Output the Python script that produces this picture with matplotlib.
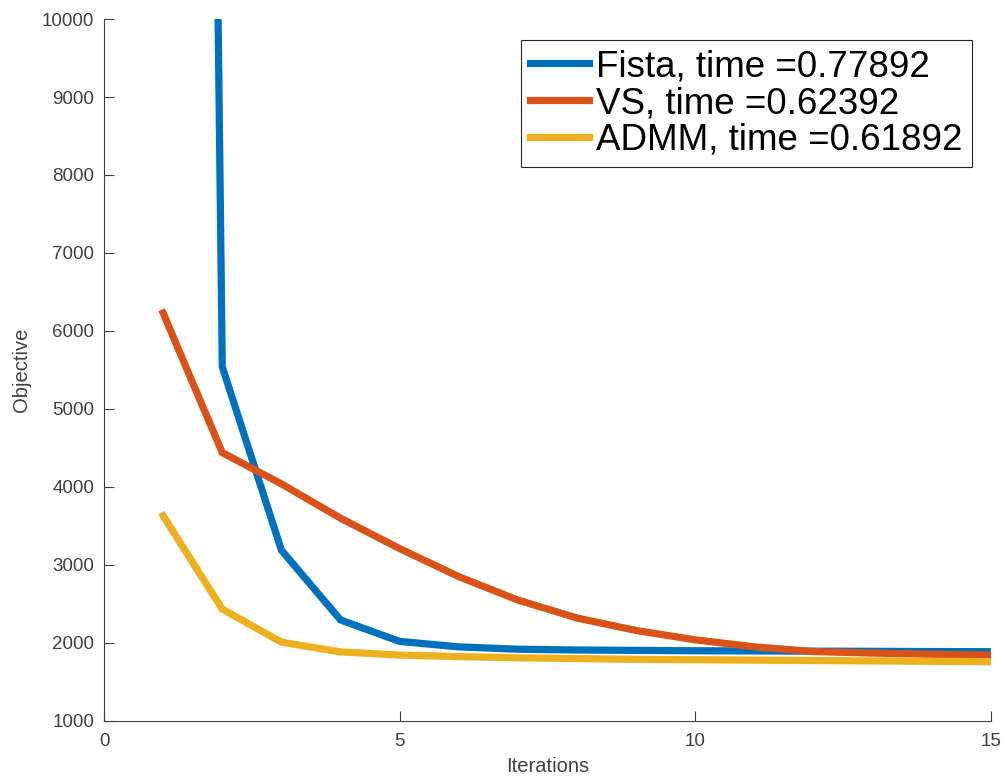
import matplotlib
matplotlib.use("Agg")
import matplotlib.pyplot as plt
import numpy as np

plt.rcParams['font.family'] = ['Liberation Sans', 'DejaVu Sans']

# iteration index and objective values
iterations = np.arange(1, 16)
fista = [69000, 5540, 3190, 2295, 2020, 1950, 1920, 1910, 1905, 1900, 1898, 1895, 1893, 1890, 1888]
vs = [6230, 4440, 4040, 3600, 3210, 2850, 2550, 2320, 2160, 2040, 1950, 1890, 1870, 1855, 1845]
admm = [3630, 2435, 2010, 1885, 1845, 1825, 1810, 1800, 1790, 1785, 1780, 1775, 1770, 1765, 1760]

labels = ['Fista, time =0.77892', 'VS, time =0.62392', 'ADMM, time =0.61892']
colors = ['#0072BD', '#D95319', '#EDB120']
xticks = [0, 5, 10, 15]
yticks = list(range(1000, 10001, 1000))

axis_col = '#404040'

fig = plt.figure(figsize=(10.04, 7.79), dpi=100)
ax = fig.add_axes([0.1036, 0.0745, 0.8834, 0.9011])

for y, lab, c in zip([fista, vs, admm], labels, colors):
    ax.plot(iterations, y, color=c, lw=5.2, label=lab, solid_joinstyle='miter')

ax.set_xlim(0, 15)
ax.set_ylim(1000, 10000)
ax.set_xticks(xticks)
ax.set_yticks(yticks)
ax.spines['top'].set_visible(False)
ax.spines['right'].set_visible(False)
for s in ['left', 'bottom']:
    ax.spines[s].set_color(axis_col)
    ax.spines[s].set_linewidth(0.8)
ax.tick_params(direction='in', length=7, width=0.8, colors=axis_col, labelsize=13.5)
ax.tick_params(axis='y', pad=7)
ax.tick_params(axis='x', pad=9)

ax.set_xlabel('Iterations', fontsize=14.5, color=axis_col, labelpad=5)
ax.set_ylabel('Objective', fontsize=14.5, color=axis_col, labelpad=8)

# MATLAB-style legend box in the top right corner
leg = ax.legend(loc='upper right', bbox_to_anchor=(0.9786, 0.970), fontsize=26.5,
                frameon=True, fancybox=False, handlelength=1.6, handletextpad=0.2,
                borderpad=0.25, labelspacing=0.05, borderaxespad=0)
leg.get_frame().set_edgecolor('#262626')
leg.get_frame().set_linewidth(0.8)
leg.get_frame().set_alpha(1)

fig.savefig('out.png', dpi=100)
